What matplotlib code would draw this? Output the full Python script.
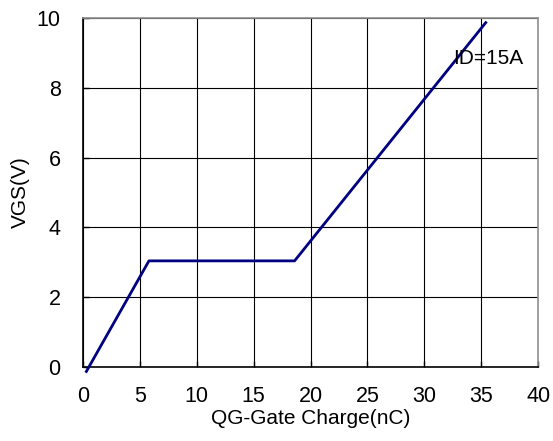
import matplotlib.pyplot as plt

plt.rcParams['font.family'] = ['Liberation Sans', 'DejaVu Sans']

qg = [0.3, 5.8, 18.6, 35.4]
vgs = [-0.13, 3.04, 3.04, 9.87]
xticks = [0, 5, 10, 15, 20, 25, 30, 35, 40]
yticks = [0, 2, 4, 6, 8, 10]

fig = plt.figure(figsize=(5.53, 4.41), dpi=100)
ax = fig.add_axes([0.150, 0.168, 0.823, 0.791])

ax.plot(qg, vgs, color='#000080', linewidth=2.0, clip_on=False, zorder=3)

ax.set_xlim(0, 40)
ax.set_ylim(0, 10)
ax.set_xticks(xticks)
ax.set_yticks(yticks)
ax.grid(True, color='black', linewidth=0.8)
ax.tick_params(direction='in', length=4, width=1, labelsize=15.5)
ax.tick_params(axis='x', pad=14)
ax.tick_params(axis='y', pad=16)

for s in ['left', 'bottom']:
    ax.spines[s].set_color('black')
    ax.spines[s].set_linewidth(1.2)
for s in ['top', 'right']:
    ax.spines[s].set_color('#909090')
    ax.spines[s].set_linewidth(1.2)

ax.set_xlabel('QG-Gate Charge(nC)', fontsize=15, labelpad=1)
ax.set_ylabel('VGS(V)', fontsize=15, labelpad=5)
ax.text(32.5, 8.85, 'ID=15A', fontsize=15, ha='left', va='center')

fig.savefig('out.png', dpi=100)
